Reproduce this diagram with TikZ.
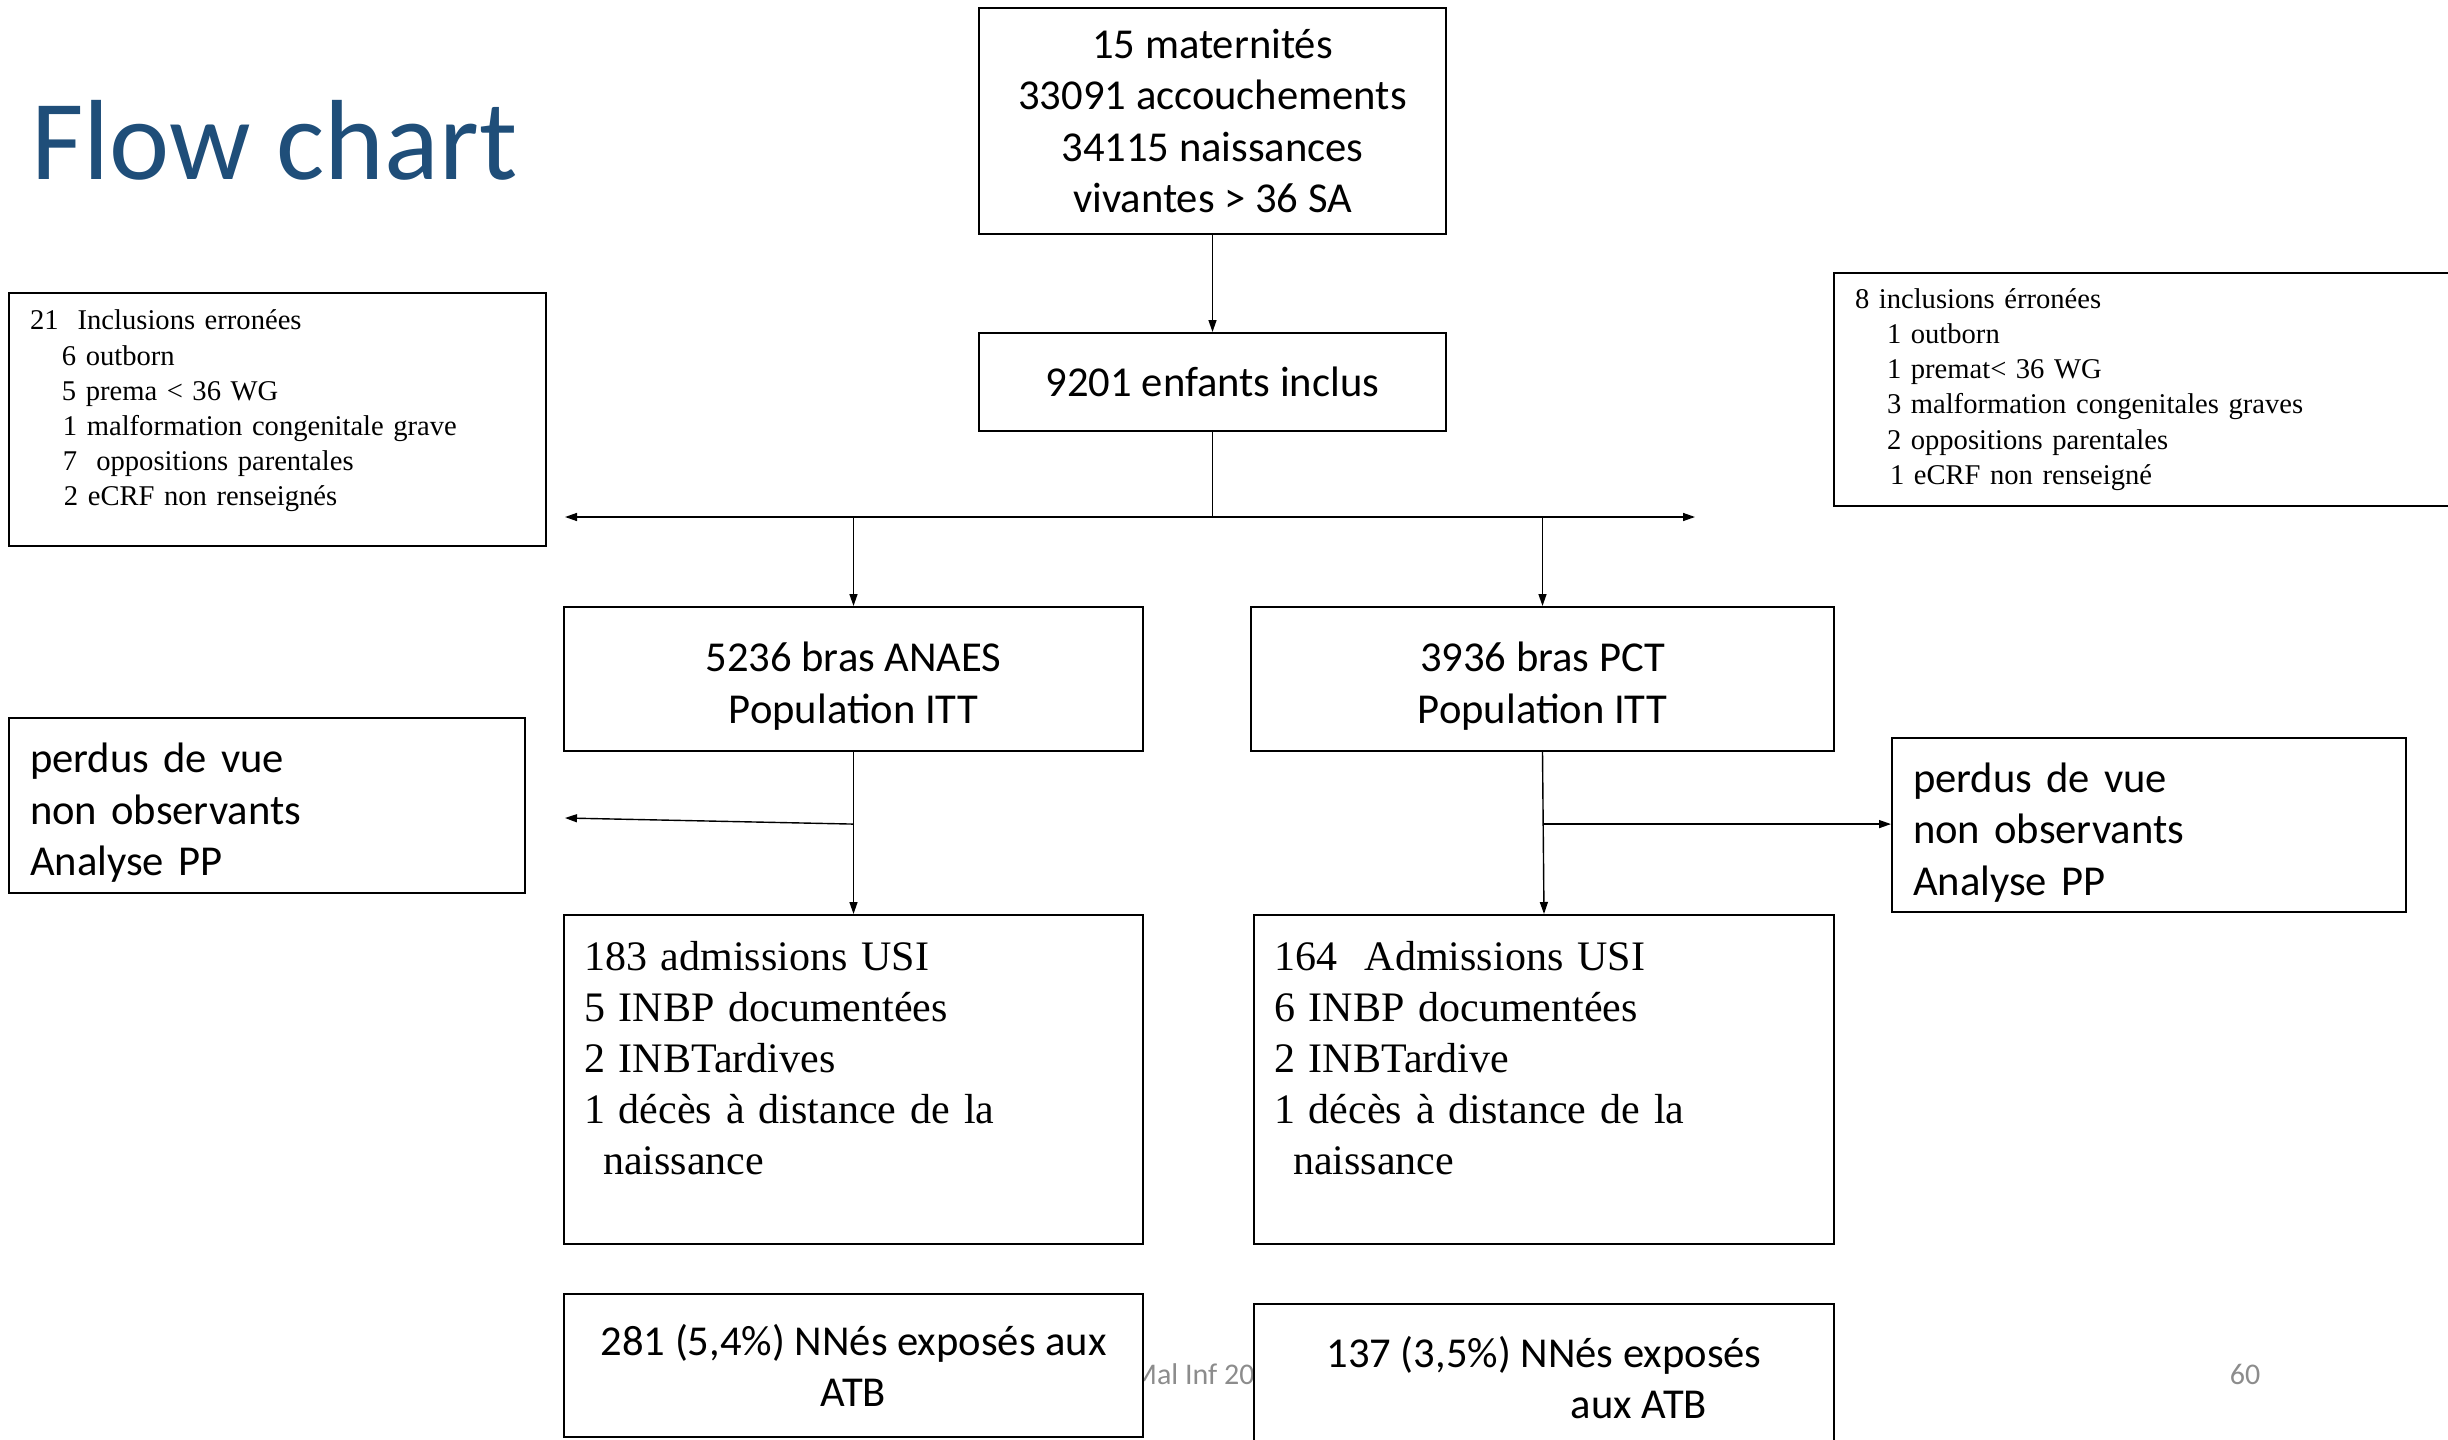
\documentclass[tikz,border=0pt]{standalone}
\usepackage{fontspec}
\setmainfont{Liberation Serif}
\newfontfamily\calibri{Carlito}
\usepackage{tikz}
\usetikzlibrary{positioning,arrows.meta}
\definecolor{titleblue}{RGB}{31,78,121}
\definecolor{footgray}{RGB}{140,140,140}

\begin{document}
\begin{tikzpicture}[
  x=0.5pt, y=-0.5pt,
  box/.style={rectangle, draw=black, line width=1pt, fill=white,
              inner sep=0pt, minimum width=#1},
  sans/.style={font={\calibri\fontsize{21.3}{25.75}\selectfont}, align=center},
  serifsmall/.style={font={\fontsize{14.3}{17.6}\selectfont}, align=left, inner xsep=10.5pt},
  serifbig/.style={font={\fontsize{21}{25.5}\selectfont}, align=left, inner xsep=10pt},
  flow/.style={-{Triangle[length=6pt,width=4pt]}, line width=0.7pt},
  foot/.style={font={\calibri\fontsize{15}{18}\selectfont}, text=footgray}
]
\useasboundingbox (0,0) rectangle (2448,1440);
\clip (0,0) rectangle (2448,1440);

% ── title and footer ─────────────────────────────────────────────────────────
\node[anchor=base west, inner sep=0pt, text=titleblue,
      font={\calibri\fontsize{57}{60}\selectfont}] (title) at (31,179) {Flow chart};
\node[foot, anchor=west, inner sep=0pt] (footer) at (1131,1374) {Mal Inf 20};
\node[foot, inner sep=0pt] (pagenum) at (2245,1374) {60};

% ── boxes ────────────────────────────────────────────────────────────────────
\node[box=233.5pt, minimum height=113pt, sans] (src) at (1212.5,121)
  {15 maternités\\ 33091 accouchements\\ 34115 naissances\\ vivantes > 36 SA};
\node[box=233.5pt, minimum height=49pt, sans] (incl) at (1212.5,382) {9201 enfants inclus};

\node[box=268.5pt, minimum height=126.5pt, serifsmall, text width=247.5pt] (exclL) at (277.5,419.5)
  {21~~Inclusions erronées\\
   \hspace*{16pt}6 outborn\\
   \hspace*{16pt}5 prema < 36 WG\\
   \hspace*{16.5pt}1 malformation congenitale grave\\
   \hspace*{16.5pt}7~~oppositions parentales\\
   \hspace*{17pt}2 eCRF non renseignés\\[-6pt]\mbox{}};
\node[box=318pt, minimum height=116.5pt, serifsmall, text width=297pt] (exclR) at (2152,389.5)
  {8 inclusions érronées\\
   \hspace*{16pt}1 outborn\\
   \hspace*{16pt}1 premat< 36 WG\\
   \hspace*{16pt}3 malformation congenitales graves\\
   \hspace*{16pt}2 oppositions parentales\\
   \hspace*{17.5pt}1 eCRF non renseigné};

\node[box=289.5pt, minimum height=72pt, sans] (anaes) at (853.5,679)
  {\rule{0pt}{22pt}5236 bras ANAES\\ Population ITT};
\node[box=291.5pt, minimum height=72pt, sans] (pct) at (1542.5,679)
  {\rule{0pt}{22pt}3936 bras PCT\\ Population ITT};

\node[box=258pt, minimum height=87.5pt, sans, align=left, inner xsep=10.5pt, text width=237pt] (lostL) at (267,805.5)
  {\rule{0pt}{22pt}perdus de vue\\ non observants\\ Analyse PP};
\node[box=257pt, minimum height=87pt, sans, align=left, inner xsep=10.5pt, text width=236pt] (lostR) at (2149,825)
  {\rule{0pt}{22pt}perdus de vue\\ non observants\\ Analyse PP};

\node[box=289.5pt, minimum height=164.5pt, serifbig, text width=269.5pt] (usiL) at (853.5,1079.5)
  {183 admissions USI\\ 5 INBP documentées\\ 2 INBTardives\\ 1 décès à distance de la\\
   \hspace*{9.5pt}naissance\\[-4pt] \mbox{}};
\node[box=290pt, minimum height=164.5pt, serifbig, text width=270pt] (usiR) at (1544,1079.5)
  {164~~Admissions USI\\ 6 INBP documentées\\ 2 INBTardive\\ 1 décès à distance de la\\
   \hspace*{9.5pt}naissance\\[-4pt] \mbox{}};

\node[box=289.5pt, minimum height=71.5pt, sans] (atbL) at (853.5,1365.5)
  {281 (5,4\%) NNés exposés aux\\ ATB};
\node[box=290pt, minimum height=78pt, sans] (atbR) at (1544,1382)
  {137 (3,5\%) NNés exposés\\ \hspace*{95pt}aux ATB\rule[-4.5pt]{0pt}{0pt}};

% ── connectors ───────────────────────────────────────────────────────────────
\coordinate (split)  at (1212.5,517);
\coordinate (splitL) at (565,517);
\coordinate (splitR) at (1695,517);
\coordinate (lostEndL) at (565,818);
\path (anaes.south) -- (usiL.north) coordinate[pos=0.445] (forkL);
\path (pct.south) -- (usiR.north) coordinate[pos=0.445] (forkR);

\draw[flow] (src) -- (incl);
\draw[line width=0.7pt] (incl.south) -- (split);
\draw[flow] (split) -- (splitL);
\draw[flow] (split) -- (splitR);
\draw[flow] (split -| anaes.north) -- (anaes.north);
\draw[flow] (split -| pct.north) -- (pct.north);

\draw[flow] (anaes.south) -- (usiL.north);
\draw[flow] (pct.south) -- (usiR.north);
\draw[flow] (forkL) -- (lostEndL);
\draw[flow] (forkR) -- (forkR -| lostR.west);
\end{tikzpicture}
\end{document}
